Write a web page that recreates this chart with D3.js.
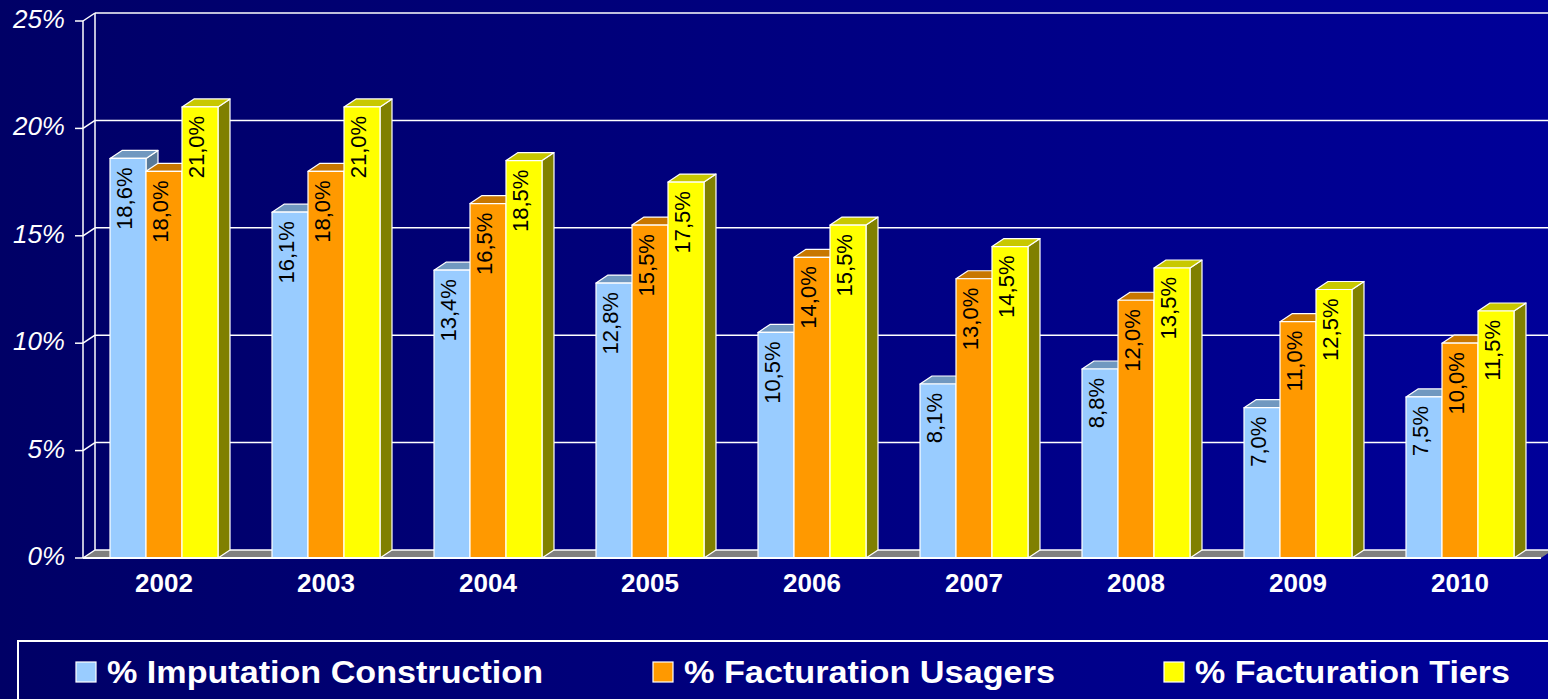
<!DOCTYPE html>
<meta charset="utf-8">
<style>
  body { margin: 0; overflow: hidden; }
  text { font-family: "Liberation Sans", Arial, sans-serif; }
</style>
<svg width="1548" height="699"></svg>
<script src="https://d3js.org/d3.v7.min.js"></script>
<script>

var years = ["2002", "2003", "2004", "2005", "2006", "2007", "2008", "2009", "2010"];
var seriesNames = ["% Imputation Construction", "% Facturation Usagers", "% Facturation Tiers"];
var imputation = [18.6, 16.1, 13.4, 12.8, 10.5, 8.1, 8.8, 7.0, 7.5];
var usagers = [18.0, 18.0, 16.5, 15.5, 14.0, 13.0, 12.0, 11.0, 10.0];
var tiers = [21.0, 21.0, 18.5, 17.5, 15.5, 14.5, 13.5, 12.5, 11.5];
var yTicks = [0, 5, 10, 15, 20, 25];

var colors = [
  {front: "#99ccff", top: "#7098c0", side: "#5a7a99"},
  {front: "#ff9900", top: "#c87700", side: "#996000"},
  {front: "#ffff00", top: "#c8c800", side: "#808000"}
];

var svg = d3.select("svg"),
    width = +svg.attr("width"),
    height = +svg.attr("height");

var defs = svg.append("defs");
var grad = defs.append("linearGradient").attr("id", "bg")
    .attr("x1", "0%").attr("x2", "100%").attr("y1", "0%").attr("y2", "0%");
grad.append("stop").attr("offset", "0%").attr("stop-color", "#000066");
grad.append("stop").attr("offset", "100%").attr("stop-color", "#000099");

svg.append("rect").attr("width", width).attr("height", height).attr("fill", "url(#bg)");

// depth of the 3d effect
var dx = 12, dy = -8;

var x = d3.scaleBand().domain(years).range([83, 1541]);
var inner = d3.scaleBand().domain(d3.range(3)).range([27, 135]);
var y = d3.scaleLinear().domain([0, 25]).range([558, 21]);

var x0 = x.range()[0], x1 = x.range()[1];

// floor
svg.append("polygon")
    .attr("points", [[x0, y(0)], [x1, y(0)], [x1 + dx, y(0) + dy], [x0 + dx, y(0) + dy]].join(" "))
    .attr("fill", "#808080");

// gridlines on back wall + left wall
var grid = svg.append("g").attr("stroke", "#fff").attr("stroke-width", 1.5).attr("fill", "none");
yTicks.forEach(function(t) {
  grid.append("line")
      .attr("x1", x0 + dx).attr("x2", width)
      .attr("y1", y(t) + dy).attr("y2", y(t) + dy);
  grid.append("line")
      .attr("x1", x0).attr("x2", x0 + dx)
      .attr("y1", y(t)).attr("y2", y(t) + dy);
});
grid.append("line")
    .attr("x1", x0 + dx).attr("x2", x0 + dx)
    .attr("y1", y(0) + dy).attr("y2", y(25) + dy);
grid.append("line")
    .attr("x1", x0).attr("x2", x0)
    .attr("y1", y(0)).attr("y2", y(25));

// y axis tick marks and labels
var yAxis = svg.append("g");
yTicks.forEach(function(t) {
  yAxis.append("line")
      .attr("x1", x0 - 8).attr("x2", x0)
      .attr("y1", y(t)).attr("y2", y(t))
      .attr("stroke", "#fff").attr("stroke-width", 1.5);
  yAxis.append("text")
      .attr("x", 65).attr("y", y(t) + 7)
      .attr("text-anchor", "end")
      .attr("fill", "#fff")
      .attr("font-size", 26)
      .attr("font-style", "italic")
      .text(t + "%");
});

// bars
var allSeries = [imputation, usagers, tiers];
var bars = svg.append("g");
years.forEach(function(yr, i) {
  allSeries.forEach(function(vals, s) {
    var v = vals[i];
    var bx = x(yr) + inner(s), bw = inner.bandwidth();
    var top = y(v), bot = y(0);
    var c = colors[s];
    var g = bars.append("g").attr("stroke", "#fff").attr("stroke-width", 1.2).attr("stroke-linejoin", "round");
    g.append("polygon")
        .attr("points", [[bx + bw, top], [bx + bw + dx, top + dy], [bx + bw + dx, bot + dy], [bx + bw, bot]].join(" "))
        .attr("fill", c.side);
    g.append("polygon")
        .attr("points", [[bx, top], [bx + dx, top + dy], [bx + bw + dx, top + dy], [bx + bw, top]].join(" "))
        .attr("fill", c.top);
    g.append("rect")
        .attr("x", bx).attr("y", top)
        .attr("width", bw).attr("height", bot - top)
        .attr("fill", c.front);
    bars.append("text")
        .attr("transform", "translate(" + (bx + bw / 2 + 4) + "," + (top + 9) + ") rotate(-90)")
        .attr("text-anchor", "end")
        .attr("font-size", 22)
        .attr("fill", "#000")
        .text(v.toFixed(1).replace(".", ",") + "%");
  });
});

// front baseline
svg.append("line")
    .attr("x1", x0).attr("x2", x1)
    .attr("y1", y(0)).attr("y2", y(0))
    .attr("stroke", "#fff").attr("stroke-width", 2);

// x labels
svg.append("g").selectAll("text")
    .data(years)
    .enter().append("text")
    .attr("x", function(d) { return x(d) + x.bandwidth() / 2; })
    .attr("y", 592)
    .attr("text-anchor", "middle")
    .attr("fill", "#fff")
    .attr("font-size", 26)
    .attr("font-weight", "bold")
    .text(function(d) { return d; });

// legend
var legend = svg.append("g");
legend.append("rect")
    .attr("x", 18).attr("y", 641)
    .attr("width", width).attr("height", 80)
    .attr("fill", "none").attr("stroke", "#fff").attr("stroke-width", 2);
var legX = [76, 653, 1164];
var legW = [436, 371, 315];
seriesNames.forEach(function(name, s) {
  legend.append("rect")
      .attr("x", legX[s]).attr("y", 662)
      .attr("width", 20).attr("height", 20)
      .attr("fill", colors[s].front)
      .attr("stroke", "#fff").attr("stroke-width", 1.2);
  legend.append("text")
      .attr("x", legX[s] + 31).attr("y", 683)
      .attr("fill", "#fff")
      .attr("font-size", 31)
      .attr("font-weight", "bold")
      .attr("textLength", legW[s])
      .attr("lengthAdjust", "spacingAndGlyphs")
      .text(name);
});

</script>
